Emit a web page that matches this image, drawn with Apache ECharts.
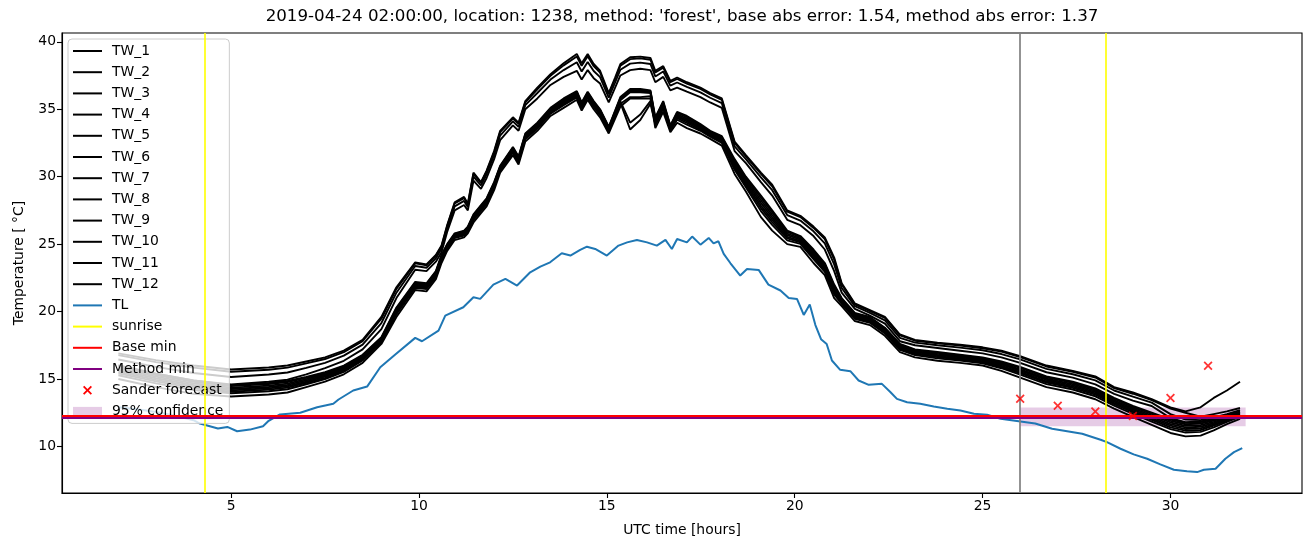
<!DOCTYPE html>
<html><head><meta charset="utf-8">
<script src="https://cdn.jsdelivr.net/npm/echarts@6/dist/echarts.min.js"></script>
<style>html,body{margin:0;padding:0;background:#fff}#c{width:1310px;height:547px}</style>
</head><body><div id="c"></div>
<script>
// ---- data ----
const T = [2,3,4,5,6,6.5,7,7.5,8,8.5, 9,9.4,9.9,10.2,10.45,10.6,10.75,10.95,11.2,11.3, 11.45,11.65,11.8,12.0,12.16,12.5,12.65,12.83,13.15,13.5, 13.85,14.2,14.33,14.49,14.65,14.82,15.05,15.22,15.36,15.62, 15.89,16.16,16.29,16.5,16.69,16.87,17.13,17.49,17.75,18.06, 18.4,18.7,19.1,19.4,19.8,20.15,20.5,20.8,21.05,21.25, 21.6,22.0,22.4,22.8,23.2,23.8,24.4,25.0,25.5,26.0, 26.7,27.4,28.0,28.5,29.0,29.5,30.0,30.4,30.8,31.15, 31.5,31.85];
const TW_1 = [16.9,16.4,16.0,15.7,15.85,16.0,16.3,16.6,17.1,17.9, 19.6,21.8,23.65,23.5,24.2,24.9,26.4,28.1,28.5,28.0, 30.3,29.6,30.45,31.9,33.4,34.4,34.0,35.6,36.6,37.6, 38.4,39.1,38.4,39.1,38.35,37.85,36.2,37.35,38.35,38.85, 38.9,38.8,37.85,38.2,37.1,37.35,37.0,36.6,36.2,35.8, 32.6,31.6,30.3,29.4,27.5,27.1,26.3,25.5,24.0,22.1, 20.6,20.1,19.6,18.3,17.9,17.7,17.55,17.35,17.1,16.7, 16.0,15.6,15.2,14.4,14.0,13.5,12.9,12.6,12.9,13.6, 14.15,14.8];
const TW_2 = [16.77,16.25,15.84,15.54,15.69,15.84,16.16,16.48,16.99,17.8, 19.47,21.68,23.57,23.43,24.13,24.83,26.33,28.01,28.41,27.93, 30.21,29.53,30.37,31.81,33.3,34.31,33.91,35.51,36.48,37.48, 38.25,38.91,38.22,38.92,38.19,37.71,36.1,37.24,38.22,38.71, 38.77,38.67,37.72,38.08,37.0,37.24,36.9,36.5,36.1,35.7, 32.5,31.51,30.2,29.28,27.4,27.0,26.2,25.37,23.85,22.0, 20.54,20.04,19.53,18.23,17.84,17.64,17.48,17.28,17.03,16.63, 15.93,15.53,15.11,14.33,13.91,13.43,12.8,12.5,12.2,12.4, 12.6,12.85];
const TW_3 = [16.45,15.9,15.45,15.15,15.33,15.48,15.83,16.2,16.73,17.55, 19.15,21.4,23.38,23.25,23.95,24.65,26.15,27.8,28.2,27.75, 30.0,29.35,30.18,31.6,33.05,34.1,33.7,35.3,36.2,37.2, 37.9,38.48,37.8,38.5,37.83,37.38,35.85,36.98,37.93,38.38, 38.45,38.35,37.43,37.8,36.75,36.98,36.65,36.25,35.85,35.45, 32.25,31.3,29.95,29.0,27.15,26.75,25.95,25.05,23.5,21.75, 20.4,19.9,19.35,18.05,17.7,17.5,17.33,17.13,16.85,16.45, 15.75,15.35,14.9,14.15,13.7,13.25,12.4,12.0,11.95,12.15, 12.4,12.7];
const TW_4 = [16.0,15.4,14.9,14.6,14.8,14.95,15.35,15.8,16.35,17.2, 18.7,21.0,23.1,23.0,23.7,24.4,25.9,27.5,27.9,27.5, 29.7,29.1,29.9,31.3,32.7,33.8,33.4,35.0,35.8,36.8, 37.4,37.85,37.2,37.9,37.3,36.9,35.5,36.6,37.5,37.9, 38.0,37.9,37.0,37.4,36.4,36.6,36.3,35.9,35.5,35.1, 31.9,31.0,29.6,28.6,26.8,26.4,25.6,24.6,23.0,21.4, 20.2,19.7,19.1,17.8,17.5,17.3,17.1,16.9,16.6,16.2, 15.5,15.1,14.6,13.9,13.4,13.0,12.1,11.8,11.85,12.05, 12.3,12.6];
const TW_5 = [16.0,15.4,14.9,14.55,14.7,14.85,15.15,15.5,16.0,16.8, 18.1,20.3,22.2,22.1,23.0,24.2,25.0,25.8,26.0,26.3, 27.2,27.9,28.4,29.6,30.8,32.2,31.5,33.2,34.0,35.1, 35.8,36.35,35.5,36.3,35.6,35.0,33.7,34.9,35.9,36.5, 36.5,36.4,34.4,35.6,33.8,34.8,34.5,33.9,33.4,33.0, 31.3,30.0,28.6,27.5,26.0,25.6,24.6,23.6,22.0,21.0, 19.9,19.6,18.8,17.6,17.2,17.0,16.8,16.6,16.3,15.9, 15.2,14.8,14.3,13.6,13.0,12.5,12.0,11.75,11.8,12.0, 12.25,12.55];
const TW_6 = [15.9,15.3,14.8,14.47,14.62,14.77,15.08,15.43,15.94,16.74, 18.05,20.23,22.14,22.04,22.94,24.14,24.95,25.75,25.95,26.25, 27.14,27.84,28.34,29.54,30.75,32.14,31.44,33.14,33.94,35.04, 35.73,36.29,35.44,36.24,35.54,34.94,33.65,34.84,35.83,36.43, 36.43,36.34,34.32,35.52,33.75,34.72,34.41,33.83,33.34,32.93, 31.19,29.89,28.44,27.35,25.9,25.52,24.5,23.51,21.9,20.94, 19.84,19.54,18.74,17.54,17.14,16.94,16.74,16.54,16.23,15.82, 15.12,14.72,14.22,13.52,12.92,12.41,11.9,11.65,11.7,11.92, 12.19,12.5];
const TW_7 = [15.78,15.18,14.68,14.36,14.51,14.66,14.99,15.35,15.86,16.67, 17.99,20.15,22.07,21.97,22.87,24.07,24.89,25.69,25.89,26.19, 27.07,27.77,28.27,29.47,30.69,32.07,31.37,33.07,33.87,34.97, 35.65,36.21,35.37,36.17,35.47,34.87,33.59,34.77,35.75,36.35, 36.35,36.27,34.22,35.42,33.69,34.62,34.3,33.75,33.27,32.85, 31.06,29.76,28.25,27.17,25.78,25.42,24.38,23.4,21.78,20.87, 19.77,19.47,18.67,17.47,17.07,16.86,16.67,16.47,16.15,15.72, 15.02,14.62,14.12,13.42,12.82,12.3,11.78,11.53,11.58,11.82, 12.12,12.44];
const TW_8 = [15.66,15.06,14.56,14.26,14.41,14.56,14.9,15.26,15.78,16.6, 17.93,20.06,22.0,21.9,22.8,24.0,24.83,25.63,25.83,26.13, 27.0,27.7,28.2,29.4,30.63,32.0,31.3,33.0,33.8,34.9, 35.56,36.13,35.3,36.1,35.4,34.8,33.53,34.7,35.66,36.26, 36.26,36.2,34.13,35.33,33.63,34.53,34.19,33.66,33.2,32.76, 30.93,29.63,28.06,26.99,25.66,25.33,24.26,23.29,21.66,20.8, 19.7,19.4,18.6,17.4,17.0,16.78,16.6,16.4,16.06,15.63, 14.93,14.53,14.03,13.33,12.73,12.19,11.66,11.41,11.46,11.73, 12.05,12.38];
const TW_9 = [15.54,14.94,14.44,14.16,14.31,14.46,14.81,15.18,15.7,16.52, 17.87,19.98,21.92,21.82,22.72,23.92,24.77,25.57,25.77,26.07, 26.92,27.62,28.12,29.32,30.57,31.92,31.22,32.92,33.72,34.82, 35.48,36.05,35.22,36.02,35.32,34.72,33.47,34.62,35.58,34.0, 34.6,35.6,34.03,35.23,33.57,34.43,34.09,33.58,33.12,32.68, 30.79,29.49,27.86,26.81,25.54,25.23,24.14,23.19,21.54,20.72, 19.62,19.32,18.52,17.32,16.92,16.7,16.52,16.32,15.98,15.53, 14.83,14.43,13.93,13.23,12.63,12.09,11.54,11.29,11.34,11.63, 11.97,12.32];
const TW_10 = [15.42,14.82,14.32,14.06,14.21,14.36,14.72,15.09,15.62,16.45, 17.81,19.89,21.85,21.75,22.65,23.85,24.71,25.51,25.71,26.01, 26.85,27.55,28.05,29.25,30.51,31.85,31.15,32.85,33.65,34.75, 35.39,35.97,35.15,35.95,35.25,34.65,33.41,34.55,35.49,33.5, 34.2,35.4,33.94,35.14,33.51,34.34,33.98,33.49,33.05,32.59, 30.66,29.36,27.67,26.63,25.42,25.14,24.02,23.08,21.42,20.65, 19.55,19.25,18.45,17.25,16.85,16.62,16.45,16.25,15.89,15.44, 14.74,14.34,13.84,13.14,12.54,11.98,11.42,11.17,11.22,11.54, 11.9,12.26];
const TW_11 = [15.28,14.68,14.18,13.94,14.09,14.24,14.61,15.0,15.53,16.37, 17.74,19.8,21.77,21.67,22.57,23.77,24.64,25.44,25.64,25.94, 26.77,27.47,27.97,29.17,30.44,31.77,31.07,32.77,33.57,34.67, 35.3,35.88,35.07,35.87,35.17,34.57,33.34,34.47,35.4,35.9, 35.9,35.97,33.82,35.02,33.44,34.22,33.85,33.4,32.97,32.5, 30.51,29.21,27.45,26.42,25.28,25.02,23.88,22.95,21.28,20.57, 19.47,19.17,18.37,17.17,16.77,16.53,16.37,16.17,15.8,15.32, 14.62,14.22,13.72,13.02,12.42,11.85,11.28,11.03,11.08,11.42, 11.82,12.19];
const TW_12 = [15.0,14.4,13.9,13.7,13.85,14.0,14.4,14.8,15.35,16.2, 17.6,19.6,21.6,21.5,22.4,23.6,24.5,25.3,25.5,25.8, 26.6,27.3,27.8,29.0,30.3,31.6,30.9,32.6,33.4,34.5, 35.1,35.7,34.9,35.7,35.0,34.4,33.2,34.3,35.2,35.8, 35.8,35.8,33.6,34.8,33.3,34.0,33.6,33.2,32.8,32.3, 30.2,28.9,27.0,26.0,25.0,24.8,23.6,22.7,21.0,20.4, 19.3,19.0,18.2,17.0,16.6,16.35,16.2,16.0,15.6,15.1, 14.4,14.0,13.5,12.8,12.2,11.6,11.0,10.75,10.8,11.2, 11.65,12.05];
const TL_time = [2,2.5,3,3.5,4.0,4.17,4.65,4.9,5.16,5.5,5.85,6.0,6.3,6.84,7.29,7.72,7.86,8.25,8.62,8.97,9.37,9.9,10.08,10.52,10.7,11.18,11.45,11.63,11.98,12.3,12.61,12.96,13.23,13.49,13.8,14.03,14.29,14.47,14.69,15.0,15.31,15.54,15.8,16.07,16.33,16.56,16.73,16.87,17.13,17.27,17.49,17.71,17.84,17.97,18.11,18.29,18.55,18.73,19.04,19.3,19.62,19.84,20.06,20.24,20.4,20.55,20.7,20.85,20.99,21.21,21.48,21.7,21.97,22.32,22.55,22.72,22.99,23.34,23.7,24.06,24.41,24.77,25.12,25.48,25.96,26.4,26.85,27.25,27.65,28.14,28.31,28.67,29.02,29.38,29.73,30.09,30.44,30.71,30.89,31.2,31.46,31.69,31.91];
const TL_value = [12.9,12.75,12.55,12.3,11.95,11.7,11.33,11.45,11.13,11.25,11.5,11.9,12.37,12.5,12.91,13.16,13.48,14.15,14.44,15.87,16.81,18.05,17.8,18.59,19.7,20.32,21.06,20.94,22.0,22.42,21.93,22.91,23.33,23.65,24.32,24.15,24.57,24.81,24.64,24.15,24.89,25.13,25.31,25.13,24.89,25.31,24.64,25.38,25.13,25.56,24.96,25.46,25.06,25.21,24.27,23.58,22.67,23.16,23.09,22.0,21.56,21.0,20.94,19.75,20.52,19.0,17.95,17.6,16.37,15.68,15.58,14.89,14.57,14.64,14.02,13.53,13.28,13.16,12.96,12.79,12.67,12.42,12.35,12.05,11.87,11.7,11.31,11.13,10.94,10.5,10.32,9.83,9.41,9.09,8.67,8.27,8.17,8.1,8.27,8.35,9.09,9.58,9.88];
const sunriseTimes = [4.29, 28.28];
const forecastTime = 26;
const baseMin = 12.3;
const methodMin = 12.1;
const sanderTime = [26, 27, 28, 29, 30, 31];
const sanderValue = [13.53, 13.01, 12.59, 12.25, 13.6, 15.98];
const confTime = [26, 32];
const confBounds = [11.5, 12.88];
const xTicks = [5, 10, 15, 20, 25, 30];
const yTicks = [10, 15, 20, 25, 30, 35, 40];
const titleText = "2019-04-24 02:00:00, location: 1238, method: 'forest', base abs error: 1.54, method abs error: 1.37";

// ---- chart ----
const FONT = 'DejaVu Sans';
const twList = [TW_1,TW_2,TW_3,TW_4,TW_5,TW_6,TW_7,TW_8,TW_9,TW_10,TW_11,TW_12];
const series = [];
twList.forEach((arr, i) => {
  const d = T.map((t, j) => [t, arr[j]]);
  series.push({type:'line', name:'TW_' + (i + 1), data:d, symbol:'none', silent:true,
    lineStyle:{color:'#000000', width:1.9}, color:'#000000', z:2});
});
series.push({type:'line', name:'TL', data:TL_time.map((t, i) => [t, TL_value[i]]), symbol:'none',
  lineStyle:{color:'#1f77b4', width:2}, color:'#1f77b4', z:2});
series.push({type:'line', name:'sunrise', data:[], symbol:'none', color:'#ffff00',
  lineStyle:{color:'#ffff00', width:1.6},
  markLine:{silent:true, symbol:'none', label:{show:false}, animation:false,
    lineStyle:{color:'#ffff00', width:1.6, type:'solid'},
    data:sunriseTimes.map(t => ({xAxis:t}))}});
series.push({type:'line', name:'_now', data:[], symbol:'none', color:'#808080',
  markLine:{silent:true, symbol:'none', label:{show:false}, animation:false,
    lineStyle:{color:'#808080', width:1.7, type:'solid'},
    data:[{xAxis:forecastTime}]}});
series.push({type:'line', name:'Base min', data:[], symbol:'none', color:'#ff0000',
  lineStyle:{color:'#ff0000', width:2},
  markLine:{silent:true, symbol:'none', label:{show:false}, animation:false,
    lineStyle:{color:'#ff0000', width:2, type:'solid'},
    data:[{yAxis:baseMin}]}});
series.push({type:'line', name:'Method min', data:[], symbol:'none', color:'#800080',
  lineStyle:{color:'#800080', width:2},
  markLine:{silent:true, symbol:'none', label:{show:false}, animation:false,
    lineStyle:{color:'#800080', width:2, type:'solid'},
    data:[{yAxis:methodMin}]}});
const XPATH = 'path://M1.4,0L5,3.6L8.6,0L10,1.4L6.4,5L10,8.6L8.6,10L5,6.4L1.4,10L0,8.6L3.6,5L0,1.4Z';
series.push({type:'scatter', name:'Sander forecast', data:sanderTime.map((t, i) => [t, sanderValue[i]]),
  symbol:XPATH, symbolSize:9, itemStyle:{color:'#ff0000'}, color:'#ff0000', z:6});
series.push({type:'line', name:'95% confidence', data:[], symbol:'none', color:'rgba(128,0,128,0.2)',
  markArea:{silent:true, animation:false, itemStyle:{color:'rgba(128,0,128,0.2)'},
    data:[[{xAxis:confTime[0], yAxis:confBounds[0]}, {xAxis:confTime[1], yAxis:confBounds[1]}]]}});

const legendNames = ['TW_1','TW_2','TW_3','TW_4','TW_5','TW_6','TW_7','TW_8','TW_9','TW_10','TW_11','TW_12','TL','sunrise','Base min','Method min'];
const legendData = legendNames.map(n => ({name:n, itemStyle:{opacity:0}}));
legendData.push({name:'Sander forecast', icon:XPATH, itemStyle:{opacity:1, color:'#ff0000'}});
legendData.push({name:'95% confidence', icon:'rect', itemStyle:{opacity:1, color:'rgba(128,0,128,0.2)'}});

const chart = echarts.init(document.getElementById('c'), null, {renderer:'canvas'});
chart.setOption({
  animation:false,
  backgroundColor:'#ffffff',
  textStyle:{fontFamily:FONT},
  graphic:[{type:'text', x:682, y:17, silent:true,
    style:{text:titleText, fill:'#000', font:'16.7px "DejaVu Sans"', align:'center', verticalAlign:'middle'}}],
  grid:{left:62, right:8, top:33, bottom:54, show:true, borderColor:'#000', borderWidth:1.1, backgroundColor:'transparent', containLabel:false},
  legend:{orient:'vertical', left:68, top:39, padding:[5,6,5,4], itemWidth:29, itemHeight:9, itemGap:7.2,
    backgroundColor:'rgba(255,255,255,0.8)', borderColor:'#cccccc', borderWidth:1, borderRadius:4,
    selectedMode:false,
    textStyle:{color:'#000', fontSize:13.9, fontFamily:FONT, padding:[0,0,0,5]},
    data:legendData},
  xAxis:{type:'value', min:0.5, max:33.5,
    axisLine:{show:true, onZero:false, lineStyle:{color:'#000', width:1.1}},
    axisTick:{show:true, inside:false, length:5, lineStyle:{color:'#000', width:1.1}, customValues:xTicks},
    axisLabel:{show:true, customValues:xTicks, color:'#000', fontSize:13.9, fontFamily:FONT, margin:6},
    splitLine:{show:false},
    name:'UTC time [hours]', nameLocation:'middle', nameGap:30,
    nameTextStyle:{color:'#000', fontSize:13.9, fontFamily:FONT}},
  yAxis:{type:'value', min:6.55, max:40.65,
    axisLine:{show:true, onZero:false, lineStyle:{color:'#000', width:1.1}},
    axisTick:{show:true, inside:false, length:5, lineStyle:{color:'#000', width:1.1}, customValues:yTicks},
    axisLabel:{show:true, customValues:yTicks, color:'#000', fontSize:13.9, fontFamily:FONT, margin:6},
    splitLine:{show:false},
    name:'Temperature [ °C]', nameLocation:'middle', nameGap:36, nameRotate:90,
    nameTextStyle:{color:'#000', fontSize:13.9, fontFamily:FONT}},
  series:series
});
</script></body></html>
